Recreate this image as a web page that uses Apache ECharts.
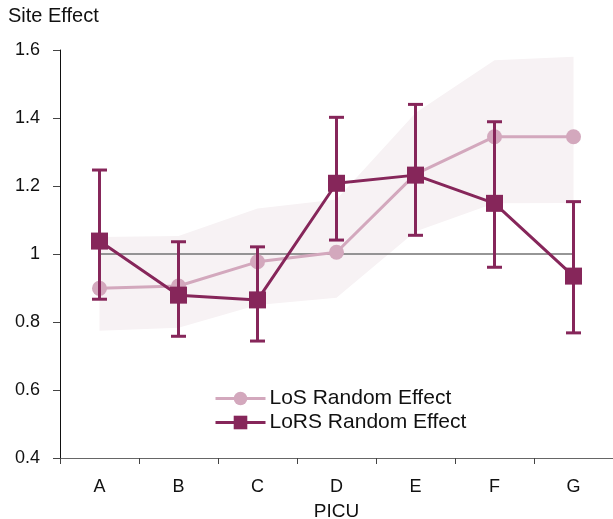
<!DOCTYPE html>
<html>
<head>
<meta charset="utf-8">
<script src="https://cdn.jsdelivr.net/npm/echarts@6/dist/echarts.min.js"></script>
<style>
  html, body { margin: 0; padding: 0; background: #fff; }
  #chart { width: 613px; height: 519px; }
</style>
</head>
<body>
<div id="chart"></div>
<script>
// data
var picu = ['A', 'B', 'C', 'D', 'E', 'F', 'G']
var losEffect = [0.899, 0.906, 0.977, 1.005, 1.235, 1.345, 1.345]
var losLower = [0.774, 0.783, 0.85, 0.871, 1.066, 1.149, 1.15]
var losUpper = [1.05, 1.053, 1.134, 1.16, 1.415, 1.57, 1.58]
var lorsEffect = [1.038, 0.879, 0.865, 1.208, 1.232, 1.149, 0.935]
var lorsLower = [0.867, 0.758, 0.744, 1.041, 1.055, 0.961, 0.768]
var lorsUpper = [1.247, 1.036, 1.021, 1.402, 1.44, 1.389, 1.154]
var refLine = [1, 1, 1, 1, 1, 1, 1]
var yTicks = [0.4, 0.6, 0.8, 1, 1.2, 1.4, 1.6]

var dark = '#86265a'
var light = '#d3a8bd'
var font = 'Liberation Sans, Arial, sans-serif'

var chart = echarts.init(document.getElementById('chart'))

// band height for stacking
var bandDiff = losUpper.map(function (v, i) { return +(v - losLower[i]).toFixed(3) })

var errData = picu.map(function (c, i) { return [i, lorsLower[i], lorsUpper[i]] })

var option = {
  animation: false,
  title: {
    text: 'Site Effect',
    left: 3,
    top: 1,
    textStyle: { fontFamily: font, fontSize: 20, fontWeight: 'normal', color: '#111' }
  },
  grid: { left: 60, right: 0, top: 50, bottom: 61, outerBoundsMode: 'none' },
  legend: {
    orient: 'vertical',
    left: 209,
    top: 383,
    itemWidth: 50,
    itemHeight: 17,
    itemGap: 3,
    lineStyle: { width: 3 },
    data: ['LoS Random Effect', 'LoRS Random Effect'],
    textStyle: { fontFamily: font, fontSize: 21, color: '#111', padding: [0, 0, 0, -1] }
  },
  xAxis: {
    type: 'category',
    data: picu,
    name: 'PICU',
    nameLocation: 'middle',
    nameGap: 44,
    nameTextStyle: { fontFamily: font, fontSize: 19, color: '#111' },
    axisLine: { lineStyle: { color: '#666', width: 1.2 } },
    axisTick: { show: true, length: 6, lineStyle: { color: '#444' } },
    axisLabel: { fontFamily: font, fontSize: 18, color: '#111', margin: 20 },
    splitLine: { show: false }
  },
  yAxis: {
    type: 'value',
    min: 0.4,
    max: 1.6,
    interval: 0.2,
    axisLine: { show: true, lineStyle: { color: '#111', width: 1 } },
    axisTick: { show: true, length: 7, lineStyle: { color: '#444' } },
    axisLabel: {
      fontFamily: font, fontSize: 18, color: '#111', margin: 20,
      formatter: function (v) {
        var t = yTicks.filter(function (x) { return Math.abs(x - v) < 1e-6 })
        return t.length ? String(t[0]) : ''
      }
    },
    splitLine: { show: false }
  },
  series: [
    {
      name: 'bandLow',
      type: 'line',
      data: losLower,
      stack: 'band',
      symbol: 'none',
      lineStyle: { opacity: 0 },
      silent: true,
      z: 1
    },
    {
      name: 'bandHigh',
      type: 'line',
      data: bandDiff,
      stack: 'band',
      symbol: 'none',
      lineStyle: { opacity: 0 },
      areaStyle: { color: '#f7f2f4', opacity: 1 },
      silent: true,
      z: 1
    },
    {
      name: 'ref',
      type: 'line',
      data: refLine,
      symbol: 'none',
      lineStyle: { color: '#747474', width: 1.6 },
      silent: true,
      z: 2
    },
    {
      name: 'LoS Random Effect',
      type: 'line',
      data: losEffect,
      symbol: 'circle',
      symbolSize: 15,
      itemStyle: { color: light },
      lineStyle: { color: light, width: 3 },
      z: 3
    },
    {
      name: 'lorsErr',
      type: 'custom',
      data: errData,
      silent: true,
      z: 4,
      renderItem: function (params, api) {
        var x = api.value(0)
        var lo = api.coord([x, api.value(1)])
        var hi = api.coord([x, api.value(2)])
        var cap = 7.5
        var st = { stroke: dark, lineWidth: 3 }
        return {
          type: 'group',
          children: [
            { type: 'line', shape: { x1: lo[0], y1: lo[1], x2: hi[0], y2: hi[1] }, style: st },
            { type: 'line', shape: { x1: lo[0] - cap, y1: lo[1], x2: lo[0] + cap, y2: lo[1] }, style: st },
            { type: 'line', shape: { x1: hi[0] - cap, y1: hi[1], x2: hi[0] + cap, y2: hi[1] }, style: st }
          ]
        }
      }
    },
    {
      name: 'LoRS Random Effect',
      type: 'line',
      data: lorsEffect,
      symbol: 'rect',
      symbolSize: 17,
      itemStyle: { color: dark },
      lineStyle: { color: dark, width: 3 },
      z: 5
    }
  ]
}

chart.setOption(option)
</script>
</body>
</html>
